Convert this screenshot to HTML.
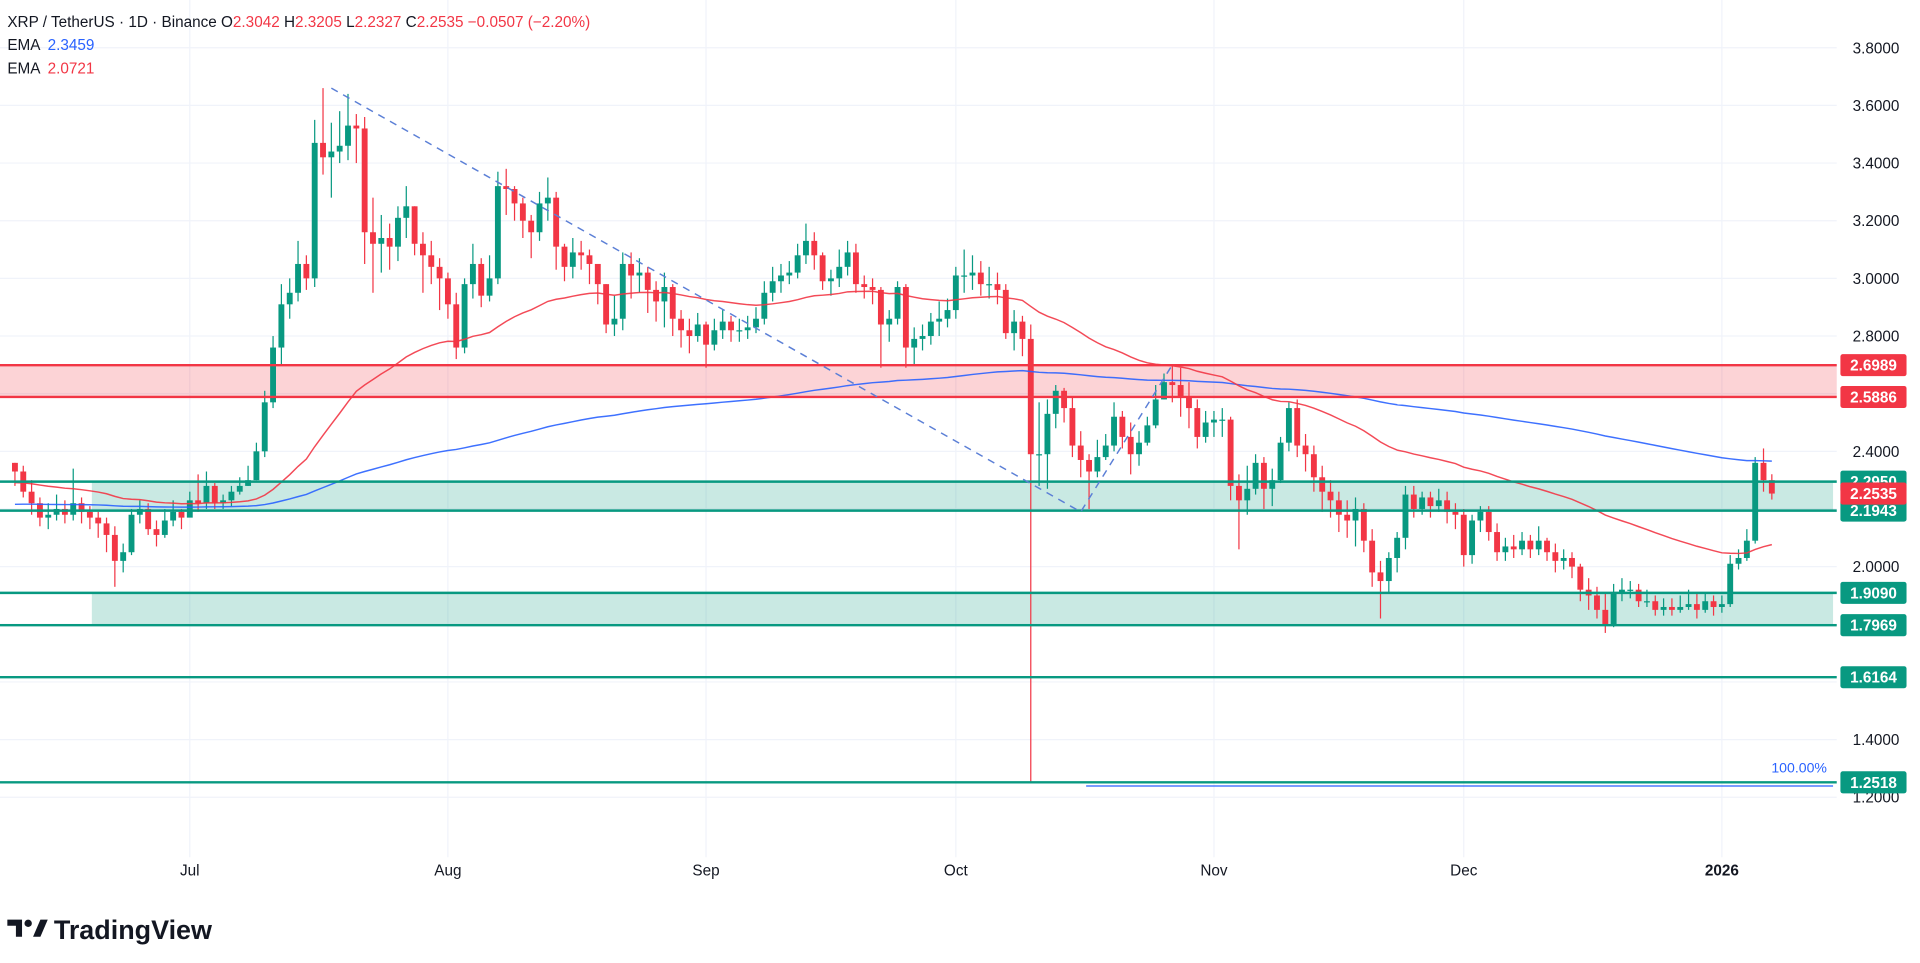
<!DOCTYPE html>
<html><head><meta charset="utf-8"><style>
html,body{margin:0;padding:0;background:#fff;width:1920px;height:963px;overflow:hidden}
svg{display:block;font-family:"Liberation Sans",sans-serif}
</style></head><body>
<svg id="chart" width="1920" height="963" viewBox="0 0 1568 786.4" preserveAspectRatio="none">
<g id="grid"></g>
<g id="zones"></g>
<g id="candles"></g>
<g id="emas"></g>
<g id="overlay"></g>
<g id="axis"></g>
<text x="6" y="22" font-size="12.5" fill="#131722">XRP / TetherUS · 1D · Binance <tspan fill="#131722">O</tspan><tspan fill="#f23645">2.3042</tspan> <tspan>H</tspan><tspan fill="#f23645">2.3205</tspan> <tspan>L</tspan><tspan fill="#f23645">2.2327</tspan> <tspan>C</tspan><tspan fill="#f23645">2.2535</tspan> <tspan fill="#f23645">−0.0507 (−2.20%)</tspan></text>
<text x="6" y="41" font-size="12.5" fill="#131722">EMA <tspan fill="#2962ff" dx="3">2.3459</tspan></text>
<text x="6" y="60" font-size="12.5" fill="#131722">EMA <tspan fill="#f23645" dx="3">2.0721</tspan></text>
<g>
<path d="M6 751h12v14h-5v-9h-7z" fill="#131722"/><circle cx="23" cy="754" r="3" fill="#131722"/><path d="M27 765l6-14h6l-6 14z" fill="#131722"/>
<text x="44" y="767" font-size="22" font-weight="bold" fill="#131722">TradingView</text>
</g>
</svg>
<script>
const closesJun=[2.33,2.26,2.22,2.17,2.18,2.20,2.18,2.22,2.19,2.17,2.15,2.11,2.02,2.05,2.18,2.20,2.13,2.11,2.16,2.19,2.17];
const highsJun=[2.36,2.35,2.30,2.24,2.22,2.25,2.23,2.34,2.24,2.21,2.19,2.17,2.14,2.08,2.20,2.23,2.22,2.16,2.20,2.23,2.20];
const lowsJun=[2.28,2.24,2.18,2.14,2.13,2.16,2.15,2.16,2.15,2.13,2.10,2.05,1.93,1.98,2.04,2.15,2.11,2.07,2.10,2.14,2.13];
const closesJul=[2.23,2.22,2.28,2.22,2.23,2.26,2.28,2.30,2.40,2.57,2.76,2.91,2.95,3.05,3.00,3.47,3.42,3.44,3.46,3.53,3.52,3.16,3.12,3.14,3.11,3.21,3.25,3.12,3.08,3.04,3.00];
const highsJul=[2.26,2.32,2.33,2.29,2.25,2.28,2.31,2.35,2.43,2.61,2.80,2.98,3.00,3.13,3.08,3.55,3.66,3.54,3.58,3.64,3.57,3.56,3.28,3.22,3.19,3.25,3.32,3.25,3.16,3.13,3.07];
const lowsJul=[2.18,2.19,2.20,2.20,2.20,2.21,2.25,2.28,2.30,2.38,2.55,2.70,2.86,2.92,2.96,2.97,3.36,3.28,3.40,3.41,3.40,3.05,2.95,3.02,3.03,3.06,3.14,3.08,2.95,2.98,2.89];
const closesAug=[2.91,2.76,2.98,3.05,2.94,3.00,3.32,3.31,3.26,3.20,3.16,3.26,3.28,3.11,3.04,3.09,3.08,3.05,2.98,2.84,2.86,3.05,3.01,3.02,2.96,2.92,2.97,2.86,2.82,2.80,2.84];
const highsAug=[3.02,2.95,3.00,3.12,3.07,3.08,3.37,3.38,3.32,3.28,3.22,3.30,3.35,3.30,3.12,3.14,3.13,3.10,3.03,2.98,2.94,3.09,3.09,3.07,3.04,2.99,3.02,2.98,2.89,2.86,2.88];
const lowsAug=[2.86,2.72,2.74,2.93,2.90,2.92,2.98,3.22,3.20,3.14,3.07,3.13,3.20,3.03,2.99,3.00,3.03,2.98,2.91,2.81,2.80,2.82,2.93,2.95,2.88,2.85,2.83,2.80,2.76,2.74,2.78];
const closesSep=[2.77,2.82,2.85,2.82,2.82,2.83,2.86,2.95,2.99,3.01,3.02,3.08,3.13,3.08,2.99,3.00,3.04,3.09,2.98,2.97,2.96,2.84,2.86,2.97,2.76,2.79,2.80,2.85,2.86,2.89];
const highsSep=[2.85,2.86,2.89,2.87,2.86,2.87,2.90,2.99,3.04,3.05,3.06,3.12,3.19,3.16,3.09,3.03,3.10,3.13,3.12,3.01,3.00,2.97,2.89,2.99,2.98,2.83,2.84,2.88,2.92,2.93];
const lowsSep=[2.69,2.75,2.79,2.78,2.78,2.79,2.81,2.84,2.92,2.95,2.98,3.00,3.05,3.03,2.96,2.94,2.97,3.01,2.95,2.93,2.91,2.69,2.78,2.84,2.69,2.70,2.75,2.77,2.80,2.83];
const closesOct=[3.01,3.01,3.02,2.98,2.98,2.96,2.81,2.85,2.79,2.39,2.39,2.53,2.61,2.55,2.42,2.37,2.33,2.38,2.42,2.52,2.45,2.39,2.43,2.49,2.58,2.64,2.63,2.59,2.55,2.45,2.50];
const highsOct=[3.04,3.10,3.08,3.06,3.04,3.02,2.98,2.89,2.87,2.84,2.57,2.58,2.63,2.62,2.59,2.47,2.39,2.44,2.46,2.57,2.54,2.50,2.47,2.52,2.63,2.67,2.70,2.69,2.64,2.58,2.54];
const lowsOct=[2.86,2.95,2.96,2.94,2.93,2.91,2.79,2.75,2.73,1.25,2.28,2.27,2.48,2.50,2.38,2.31,2.20,2.31,2.37,2.40,2.41,2.32,2.35,2.42,2.48,2.58,2.57,2.52,2.48,2.41,2.43];
const closesNov=[2.51,2.51,2.28,2.23,2.27,2.36,2.27,2.30,2.43,2.55,2.42,2.39,2.31,2.26,2.23,2.18,2.16,2.20,2.09,1.98,1.95,2.03,2.10,2.25,2.20,2.24,2.21,2.23,2.19,2.18];
const highsNov=[2.54,2.55,2.52,2.32,2.35,2.39,2.38,2.34,2.45,2.57,2.58,2.46,2.42,2.35,2.30,2.26,2.23,2.24,2.22,2.13,2.02,2.05,2.12,2.28,2.28,2.26,2.26,2.27,2.26,2.22];
const lowsNov=[2.45,2.45,2.23,2.06,2.18,2.25,2.20,2.21,2.29,2.40,2.38,2.33,2.26,2.19,2.17,2.12,2.10,2.07,2.05,1.93,1.82,1.91,1.98,2.06,2.17,2.18,2.17,2.19,2.15,2.13];
const closesDec=[2.04,2.16,2.19,2.12,2.05,2.07,2.06,2.09,2.06,2.09,2.05,2.02,2.03,2.00,1.92,1.90,1.85,1.80,1.91,1.92,1.92,1.88,1.88,1.85,1.86,1.85,1.86,1.87,1.85,1.88,1.86];
const highsDec=[2.20,2.18,2.21,2.21,2.15,2.10,2.11,2.12,2.11,2.14,2.10,2.08,2.06,2.05,2.01,1.96,1.93,1.91,1.94,1.96,1.95,1.94,1.92,1.90,1.89,1.89,1.90,1.92,1.91,1.91,1.90];
const lowsDec=[2.00,2.01,2.12,2.09,2.02,2.02,2.03,2.04,2.03,2.04,2.02,1.98,1.99,1.96,1.88,1.85,1.82,1.77,1.79,1.88,1.89,1.86,1.86,1.83,1.83,1.83,1.84,1.85,1.82,1.84,1.83];
const closesJan=[1.87,2.01,2.03,2.09,2.36,2.30,2.2535];
const highsJan=[1.90,2.04,2.06,2.13,2.38,2.41,2.3205];
const lowsJan=[1.84,1.86,1.99,2.02,2.08,2.26,2.2327];
const firstOpen=2.36;
const emaRedSeed=2.29;
const emaBlueSeed=2.215;
const emaRedLen=50;
const emaBlueLen=200;
const priceTicks=[3.8,3.6,3.4,3.2,3.0,2.8,2.4,2.0,1.4,1.2];
const gridTicks=[3.8,3.6,3.4,3.2,3.0,2.8,2.6,2.4,2.2,2.0,1.8,1.6,1.4,1.2];
const monthLabels=["Jul","Aug","Sep","Oct","Nov","Dec","2026"];
const monthStartIdx=[21,52,83,113,144,174,205];
const redLevels=[2.6989,2.5886];
const greenLevels=[2.2950,2.1943,1.9090,1.7969,1.6164,1.2518];
const currentPrice=2.2535;

const closes=[].concat(closesJun,closesJul,closesAug,closesSep,closesOct,closesNov,closesDec,closesJan);
const highs=[].concat(highsJun,highsJul,highsAug,highsSep,highsOct,highsNov,highsDec,highsJan);
const lows=[].concat(lowsJun,lowsJul,lowsAug,lowsSep,lowsOct,lowsNov,lowsDec,lowsJan);
const NS="http://www.w3.org/2000/svg";
const Y=p=>39+(3.8-p)*235.4;
const X=i=>155+(i-21)*6.8;
const RIGHT=1500;
function mk(parent,tag,attrs){const e=document.createElementNS(NS,tag);for(const k in attrs)e.setAttribute(k,attrs[k]);parent.appendChild(e);return e;}
const grid=document.getElementById('grid'),zones=document.getElementById('zones'),cg=document.getElementById('candles'),eg=document.getElementById('emas'),ov=document.getElementById('overlay'),ax=document.getElementById('axis');
gridTicks.forEach(p=>{const l=mk(grid,'line',{x1:0,x2:RIGHT,y1:Y(p),y2:Y(p),stroke:'#f0f3fa','stroke-width':1});

});
monthStartIdx.forEach((m,k)=>{const l=mk(grid,'line',{x1:X(m),x2:X(m),y1:0,y2:700,stroke:'#f0f3fa','stroke-width':1});


const t=mk(ax,'text',{x:X(m),y:715,'font-size':12.5,'text-anchor':'middle',fill:'#131722','font-weight':k==6?'bold':'normal'});t.textContent=monthLabels[k];

});
// zones
let z=mk(zones,'rect',{x:0,y:Y(redLevels[0]),width:RIGHT,height:Y(redLevels[1])-Y(redLevels[0]),fill:'#f23645','fill-opacity':0.22});


z=mk(zones,'rect',{x:75,y:Y(greenLevels[0]),width:RIGHT-78,height:Y(greenLevels[1])-Y(greenLevels[0]),fill:'#089981','fill-opacity':0.22});


z=mk(zones,'rect',{x:75,y:Y(greenLevels[2]),width:RIGHT-78,height:Y(greenLevels[3])-Y(greenLevels[2]),fill:'#089981','fill-opacity':0.22});


// candles
let prev=firstOpen;
closes.forEach((c,i)=>{const o=prev;prev=c;const col=c>=o?'#089981':'#f23645';const x=X(i);
const g=mk(cg,'g',{});


mk(g,'line',{x1:x,x2:x,y1:Y(highs[i]),y2:Y(lows[i]),stroke:col,'stroke-width':1});
const t=Math.min(Y(o),Y(c)),h=Math.max(1,Math.abs(Y(o)-Y(c)));
mk(g,'rect',{x:x-2.4,y:t,width:4.8,height:h,fill:col});});
// EMAs
function ema(seed,len){const a=2/(len+1);let v=seed;return closes.map(c=>(v=v+a*(c-v)));}
[[emaBlueSeed,emaBlueLen,'#2962ff','ema-200-line'],[emaRedSeed,emaRedLen,'#f23645','ema-50-line']].forEach(([s,l,col,n])=>{
const vals=ema(s,l);const p=mk(eg,'polyline',{points:vals.map((v,i)=>X(i)+','+Y(v)).join(' '),fill:'none',stroke:col,'stroke-width':1.2,'stroke-opacity':0.9});

});
// levels
redLevels.forEach(p=>{const l=mk(ov,'line',{x1:0,x2:RIGHT,y1:Y(p),y2:Y(p),stroke:'#f23645','stroke-width':2});

});
greenLevels.forEach(p=>{const l=mk(ov,'line',{x1:0,x2:RIGHT,y1:Y(p),y2:Y(p),stroke:'#089981','stroke-width':2});

});
// trend & fib
let d=mk(ov,'polyline',{points:`${X(38)},${Y(3.66)} ${X(148-20)},${Y(2.19)} ${X(139)},${Y(2.70)}`,fill:'none',stroke:'#5b7fd6','stroke-width':1.2,'stroke-dasharray':'6 5'});


d=mk(ov,'line',{x1:887,x2:RIGHT-3,y1:Y(1.2518)+3,y2:Y(1.2518)+3,stroke:'#2962ff','stroke-width':1});


d=mk(ov,'text',{x:1492,y:Y(1.2518)-8,'font-size':11.5,'text-anchor':'end',fill:'#2962ff'});d.textContent='100.00%';


// axis
priceTicks.forEach(p=>{const t=mk(ax,'text',{x:1513,y:Y(p)+4.5,'font-size':12.5,fill:'#131722'});t.textContent=p.toFixed(4);

});
function tag(p,col,name){const g=mk(ax,'g',{});


mk(g,'rect',{x:1503,y:Y(p)-9,width:54,height:18,rx:2,fill:col});
const t=mk(g,'text',{x:1530,y:Y(p)+4.5,'font-size':12.5,'font-weight':'bold','text-anchor':'middle',fill:'#fff'});t.textContent=p.toFixed(4);}
redLevels.forEach(p=>tag(p,'#f23645','resistance-tag'));
greenLevels.forEach(p=>tag(p,'#089981','support-tag'));
tag(currentPrice,'#f23645','current-price-tag');
</script>
</body></html>
